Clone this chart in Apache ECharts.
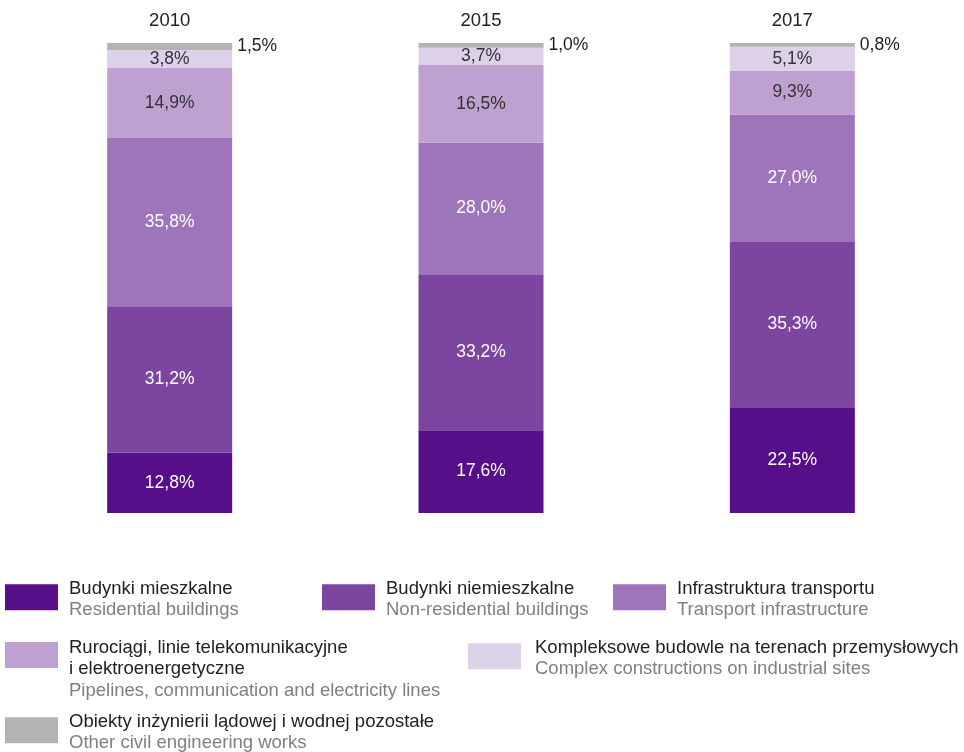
<!DOCTYPE html>
<html><head><meta charset="utf-8">
<script src="https://cdn.jsdelivr.net/npm/echarts@6/dist/echarts.min.js"></script>
<style>html,body{margin:0;padding:0;background:#fff}#c{width:964px;height:752px}</style>
</head><body><div id="c"></div>
<script>
const years = ['2010', '2015', '2017'];
const residential = [12.8, 17.6, 22.5];
const nonResidential = [31.2, 33.2, 35.3];
const transport = [35.8, 28.0, 27.0];
const pipelines = [14.9, 16.5, 9.3];
const complexSites = [3.8, 3.7, 5.1];
const otherWorks = [1.5, 1.0, 0.8];

const namesPL = ['Budynki mieszkalne', 'Budynki niemieszkalne', 'Infrastruktura transportu',
  'Rurociągi, linie telekomunikacyjne\ni elektroenergetyczne', 'Kompleksowe budowle na terenach przemysłowych',
  'Obiekty inżynierii lądowej i wodnej pozostałe'];
const namesEN = ['Residential buildings', 'Non-residential buildings', 'Transport infrastructure',
  'Pipelines, communication and electricity lines', 'Complex constructions on industrial sites',
  'Other civil engineering works'];
const colors = ['#560f88', '#7c45a0', '#9e74ba', '#bea0d1', '#ddd1ea', '#b3b3b3'];
const labelColors = ['#fff', '#fff', '#fff', '#333', '#333', '#222'];
const values = [residential, nonResidential, transport, pipelines, complexSites, otherWorks];

const font = 'Liberation Sans, Arial, sans-serif';
const fmt = p => p.value.toFixed(1).replace('.', ',') + '%';

const series = values.map((v, i) => ({
  name: namesPL[i],
  type: 'bar',
  stack: 'total',
  barWidth: 125,
  data: v,
  itemStyle: { color: colors[i] },
  label: {
    show: true,
    position: i === 5 ? 'right' : 'inside',
    distance: 5,
    formatter: fmt,
    color: labelColors[i],
    fontSize: 17.5,
    fontFamily: font
  }
}));

const legendPos = [
  [5, 579, 4, 6], [322, 579, 4, 6], [613, 579, 4, 6],
  [5, 638, 28, 6], [468, 638, 4, 9], [5, 712, 4, 6]
];
const legends = legendPos.map((p, i) => ({
  data: [namesPL[i]],
  left: p[0], top: p[1],
  padding: 0,
  itemWidth: 53, itemHeight: 26,
  icon: 'rect',
  selectedMode: false,
  formatter: name => {
    const idx = namesPL.indexOf(name);
    return namesPL[idx].split('\n').map(s => '{a|' + s + '}').join('\n') + '\n{b|' + namesEN[idx] + '}';
  },
  textStyle: {
    padding: [p[2], 0, 0, p[3]],
    fontFamily: font,
    rich: {
      a: { color: '#222', fontSize: 18.5, lineHeight: 21.5, fontFamily: font },
      b: { color: '#808080', fontSize: 18.5, lineHeight: 21.5, fontFamily: font }
    }
  }
}));

const chart = echarts.init(document.getElementById('c'));
chart.setOption({
  animation: false,
  color: colors,
  grid: { left: 14, right: 16, top: 43, bottom: 239 },
  legend: legends,
  xAxis: {
    type: 'category', data: years, position: 'top',
    axisLine: { show: false }, axisTick: { show: false },
    axisLabel: { color: '#222', fontSize: 18.5, margin: 13, fontFamily: font }
  },
  yAxis: { type: 'value', min: 0, max: 100, show: false, splitLine: { show: false } },
  series: series
});
</script></body></html>
